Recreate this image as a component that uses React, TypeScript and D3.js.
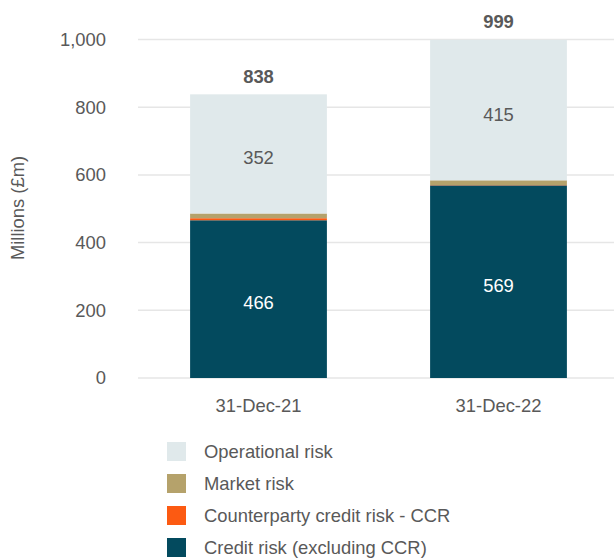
import React from "react";
import * as d3 from "d3";

const categories = ["31-Dec-21", "31-Dec-22"];
const seriesNames = ["Credit risk (excluding CCR)", "Counterparty credit risk - CCR", "Market risk", "Operational risk"];
const creditRisk = [466, 569];
const ccr = [6, 1];
const marketRisk = [14, 14];
const operationalRisk = [352, 415];
const totals = [838, 999];
const yTicks = [0, 200, 400, 600, 800, 1000];
const colors = ["#034a5e", "#fc5a12", "#b5a26b", "#e0e9eb"];

export default function App() {
  const W = 614, H = 559;
  const x = d3.scaleBand().domain(categories).range([138.5, 618.5]).paddingInner(0.43).paddingOuter(0.215);
  const y = d3.scaleLinear().domain([0, 1000]).range([378, 39.5]);
  const rows = categories.map((c, i) => ({ cat: c, credit: creditRisk[i], ccr: ccr[i], market: marketRisk[i], op: operationalRisk[i] }));
  const stack = d3.stack<any>().keys(["credit", "ccr", "market", "op"])(rows);
  const font = "Liberation Sans, Arial, sans-serif";
  const legendOrder = [3, 2, 1, 0];
  const fs = 18.4;
  return (
    <svg width={W} height={H} style={{ position: "absolute", left: 0, top: 0 }} fontFamily={font}>
      {yTicks.map((t) => (
        <g key={t}>
          <line x1={138} x2={614} y1={y(t)} y2={y(t)} stroke="#e6e6e6" strokeWidth={1.5} />
          <text x={106} y={y(t)} dy="0.35em" textAnchor="end" fontSize={fs} fill="#595959">{d3.format(",")(t)}</text>
        </g>
      ))}
      <text transform={`translate(23.5,${208}) rotate(-90)`} textAnchor="middle" fontSize={fs} fill="#595959">Millions (£m)</text>
      {stack.map((s, si) => (
        <g key={si} fill={colors[si]}>
          {s.map((d, i) => (
            <rect key={i} x={x(categories[i])} width={x.bandwidth()} y={y(d[1])} height={y(d[0]) - y(d[1])} />
          ))}
        </g>
      ))}
      {categories.map((c, i) => {
        const cx = (x(c) as number) + x.bandwidth() / 2;
        const opBase = creditRisk[i] + ccr[i] + marketRisk[i];
        return (
          <g key={c}>
            <text x={cx} y={y(creditRisk[i] / 2) + 3.5} dy="0.35em" textAnchor="middle" fontSize={fs} fill="#ffffff">{creditRisk[i]}</text>
            <text x={cx} y={y(opBase + operationalRisk[i] / 2) + 4} dy="0.35em" textAnchor="middle" fontSize={fs} fill="#595959">{operationalRisk[i]}</text>
            <text x={cx} y={y(totals[i]) - 18} dy="0.35em" textAnchor="middle" fontSize={fs} fontWeight="bold" fill="#595959">{totals[i]}</text>
            <text x={cx} y={406} dy="0.35em" textAnchor="middle" fontSize={fs} fill="#595959">{c}</text>
          </g>
        );
      })}
      {legendOrder.map((si, k) => (
        <g key={si} transform={`translate(167,${442 + k * 32})`}>
          <rect width={19} height={19} fill={colors[si]} />
          <text x={37} y={9.5} dy="0.35em" fontSize={fs} fill="#595959">{seriesNames[si]}</text>
        </g>
      ))}
    </svg>
  );
}
